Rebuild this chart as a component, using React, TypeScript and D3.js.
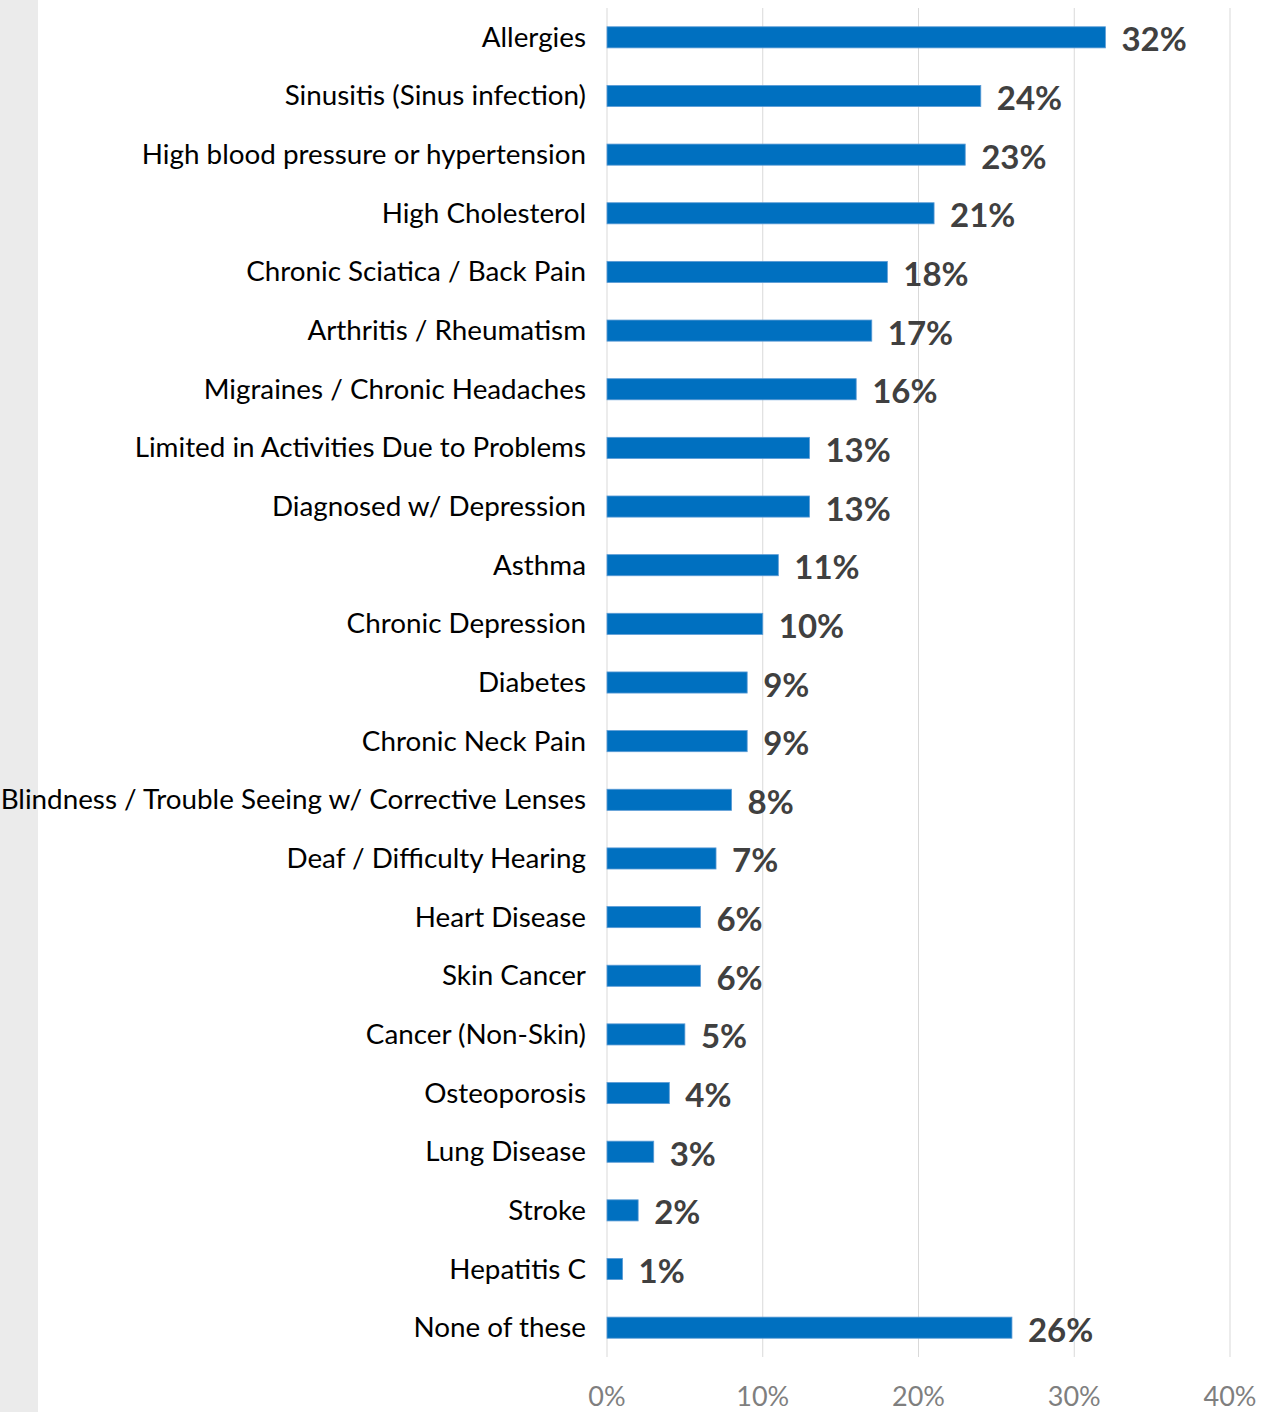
import React, { useEffect } from "react";
import * as d3 from "d3";

const categories = [
  "Allergies",
  "Sinusitis (Sinus infection)",
  "High blood pressure or hypertension",
  "High Cholesterol",
  "Chronic Sciatica / Back Pain",
  "Arthritis / Rheumatism",
  "Migraines / Chronic Headaches",
  "Limited in Activities Due to Problems",
  "Diagnosed w/ Depression",
  "Asthma",
  "Chronic Depression",
  "Diabetes",
  "Chronic Neck Pain",
  "Blindness / Trouble Seeing w/ Corrective Lenses",
  "Deaf / Difficulty Hearing",
  "Heart Disease",
  "Skin Cancer",
  "Cancer (Non-Skin)",
  "Osteoporosis",
  "Lung Disease",
  "Stroke",
  "Hepatitis C",
  "None of these",
];

const values = [32, 24, 23, 21, 18, 17, 16, 13, 13, 11, 10, 9, 9, 8, 7, 6, 6, 5, 4, 3, 2, 1, 26];

const ticks = [0, 10, 20, 30, 40];

const W = 1272;
const H = 1412;
const FONT = "Lato, 'Open Sans', sans-serif";

export default function App() {
  useEffect(() => {
    document.body.style.margin = "0";
  }, []);

  const x = d3.scaleLinear().domain([0, 40]).range([607, 1230]);
  const y = d3
    .scaleBand<string>()
    .domain(categories)
    .range([8, 1357])
    .paddingInner(0.64)
    .paddingOuter(0.32);

  return (
    <svg width={W} height={H} style={{ display: "block", background: "#fff" }}>
      <rect x={0} y={0} width={38} height={H} fill="#ebebeb" />
      {ticks.map((t) => (
        <line
          key={"g" + t}
          x1={x(t)}
          x2={x(t)}
          y1={8}
          y2={1357}
          stroke="#d9d9d9"
          strokeWidth={1}
        />
      ))}
      {categories.map((c, i) => {
        const yy = y(c)!;
        const bw = y.bandwidth();
        return (
          <g key={c}>
            <rect
              x={x(0)}
              y={yy}
              width={x(values[i]) - x(0)}
              height={bw}
              fill="#0070c0"
              stroke="#5b9bd5"
              strokeWidth={0.8}
            />
            <text
              x={586}
              y={yy + bw / 2 - 1}
              textAnchor="end"
              dominantBaseline="central"
              fontFamily={FONT}
              fontSize={27.8}
              fill="#000"
            >
              {c}
            </text>
            <text
              x={x(values[i]) + 16}
              y={yy + bw / 2 + 1}
              dominantBaseline="central"
              fontFamily={FONT}
              fontSize={33}
              fontWeight="bold"
              fill="#404040"
            >
              {values[i] + "%"}
            </text>
          </g>
        );
      })}
      {ticks.map((t) => (
        <text
          key={"t" + t}
          x={x(t)}
          y={1395}
          textAnchor="middle"
          dominantBaseline="central"
          fontFamily={FONT}
          fontSize={27}
          fill="#7f7f7f"
        >
          {t + "%"}
        </text>
      ))}
    </svg>
  );
}
